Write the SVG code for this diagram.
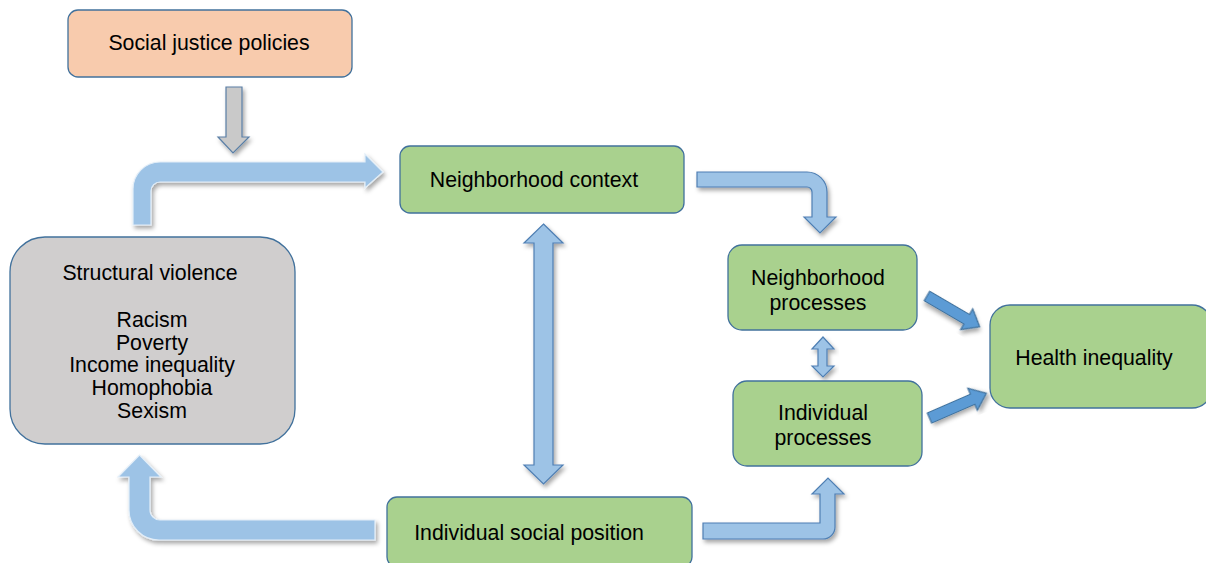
<svg xmlns="http://www.w3.org/2000/svg" width="1206" height="563" viewBox="0 0 1206 563">
<defs>
<filter id="sh" x="-20%" y="-20%" width="140%" height="140%">
<feDropShadow dx="2" dy="3" stdDeviation="2" flood-color="#000" flood-opacity="0.35"/>
</filter>
<style>
.node{stroke:#41719c;stroke-width:1.3}
.green{fill:#a9d18e}
.t{font-family:"Liberation Sans",Arial,sans-serif;font-size:21.3px;fill:#000;text-anchor:middle}
.arr{fill:#9dc3e6;stroke:#4f7fb3;stroke-width:1.2;stroke-linejoin:miter;filter:url(#sh)}
.arrl{fill:#9dc3e6;stroke:#e3eef8;stroke-width:1.2;filter:url(#sh)}
.dark{fill:#5b9bd5;stroke:#41719c;stroke-width:1.2;filter:url(#sh)}
</style>
</defs>
<rect width="1206" height="563" fill="#fff"/>
<g id="connectors">
<path d="M226,87 L242,87 L242,137 L249,137 L233,153 L218,137 L226,137 Z" fill="#c9c9c9" stroke="#5a7fa6" stroke-width="1.2" filter="url(#sh)"/>
<path class="arrl" d="M133,225 L133,189 A27,27 0 0 1 160,162 L365,162 L365,154 L383,172 L365,188 L365,182 L160,182 A9,9 0 0 0 151,191 L151,225 Z"/>
<path class="arr" d="M697,172 L807,172 A20,20 0 0 1 827,192 L827,217 L836,217 L820,233 L804,217 L812,217 L812,192 A5,5 0 0 0 807,187 L697,187 Z"/>
<path class="arrl" d="M375,520 L160,520 A10,10 0 0 1 150,510 L150,477 L161,477 L139.5,455 L118,477 L129,477 L129,510 A30,30 0 0 0 159,540 L375,540 Z"/>
<path class="arr" d="M703,523 L820,523 L820,494 L812,494 L828,478 L844,494 L835,494 L835,527 A12,12 0 0 1 823,539 L703,539 Z"/>
<path class="arr" d="M543.5,224 L563,243 L553,243 L553,465 L563,465 L543.5,484 L524,465 L534,465 L534,243 L524,243 Z"/>
<path class="arr" d="M823,337 L834,349 L827,349 L827,366 L834,366 L823,377 L812,366 L818,366 L818,349 L812,349 Z"/>
<path class="dark" transform="translate(927,296) rotate(30.3)" d="M0,-5.5 L46,-5.5 L46,-12 L61,0 L46,12 L46,5.5 L0,5.5 Z"/>
<path class="dark" transform="translate(929.5,418) rotate(-23.5)" d="M0,-5.5 L47,-5.5 L47,-12 L62,0 L47,12 L47,5.5 L0,5.5 Z"/>
</g>
<g id="social-justice">
<rect class="node" x="68" y="10" width="284" height="67" rx="10" fill="#f8cbad"/>
<text class="t" x="209" y="50">Social justice policies</text>
</g>
<g id="neighborhood-context">
<rect class="node green" x="400" y="146" width="284" height="67" rx="10"/>
<text class="t" x="534" y="187">Neighborhood context</text>
</g>
<g id="structural-violence">
<rect class="node" x="10" y="237" width="285" height="207" rx="35" fill="#d0cece"/>
<text class="t" x="150" y="280">Structural violence</text>
<text class="t" x="152" y="327">Racism</text>
<text class="t" x="152" y="350">Poverty</text>
<text class="t" x="152" y="372">Income inequality</text>
<text class="t" x="152" y="395">Homophobia</text>
<text class="t" x="152" y="418">Sexism</text>
</g>
<g id="neighborhood-processes">
<rect class="node green" x="728" y="245" width="189" height="85" rx="14"/>
<text class="t" x="818" y="285">Neighborhood</text>
<text class="t" x="818" y="310">processes</text>
</g>
<g id="individual-processes">
<rect class="node green" x="733" y="381" width="189" height="85" rx="14"/>
<text class="t" x="823" y="420">Individual</text>
<text class="t" x="823" y="445">processes</text>
</g>
<g id="health-inequality">
<rect class="node green" x="990" y="305" width="222" height="103" rx="20"/>
<text class="t" x="1094" y="365">Health inequality</text>
</g>
<g id="individual-social-position">
<rect class="node green" x="387" y="497" width="305" height="70" rx="10"/>
<text class="t" x="529" y="540">Individual social position</text>
</g>
</svg>
